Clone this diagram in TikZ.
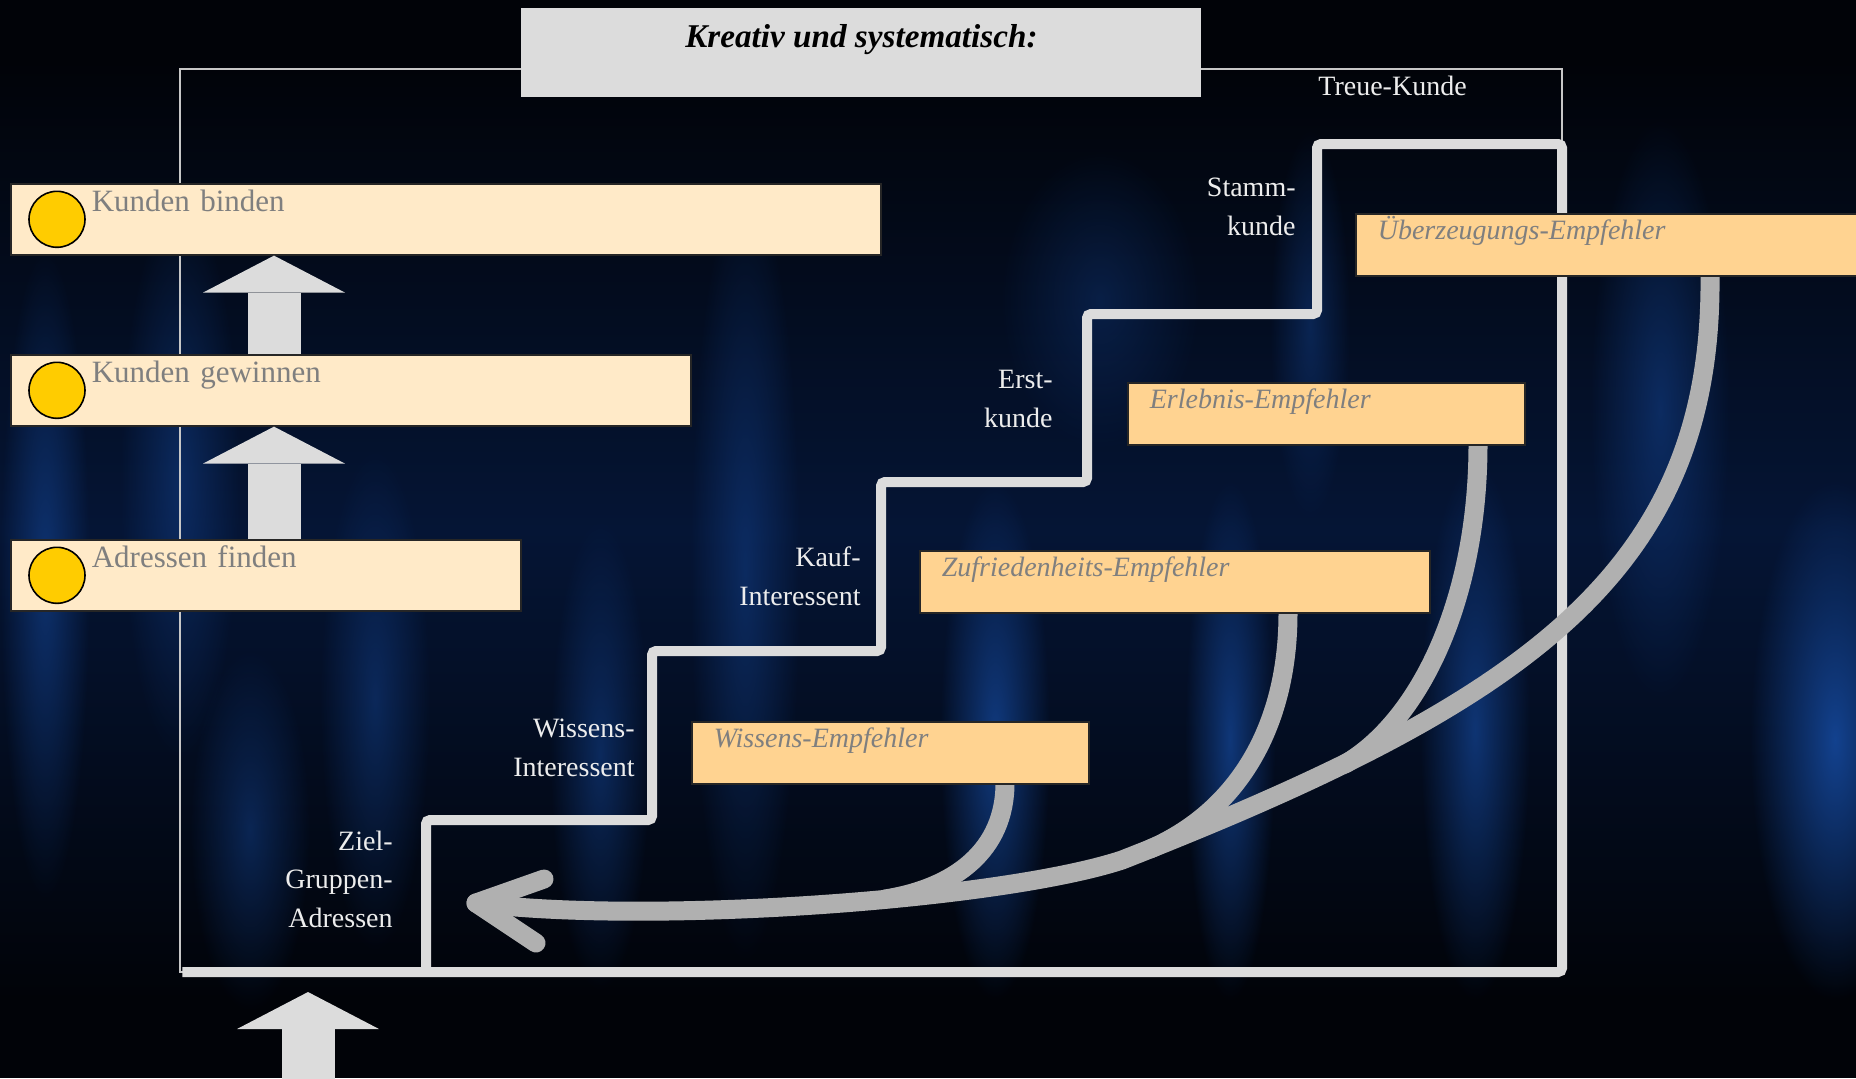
\documentclass[tikz,border=0pt]{standalone}
\usepackage{fontspec}
\setmainfont{Liberation Serif}
\usepackage{xcolor}
\usepackage{tikz}
\usetikzlibrary{arrows.meta,fadings}
\definecolor{bgdark}{HTML}{010308}
\definecolor{bgnavy}{HTML}{051535}
\definecolor{streak}{HTML}{13428F}
\definecolor{treppengrau}{HTML}{DCDCDC}
\definecolor{bogengrau}{HTML}{B0B0B0}
\definecolor{beige}{HTML}{FFEAC8}
\definecolor{apricot}{HTML}{FFD391}
\definecolor{gold}{HTML}{FFCC00}
\definecolor{textgrau}{HTML}{7F7F7F}
\tikzfading[name=glow,inner color=transparent!0,outer color=transparent!100]

\begin{document}
\begin{tikzpicture}[x=0.5pt,y=-0.5pt,
  stufe/.style={anchor=north west,fill=beige,draw=black!85,line width=0.8pt,inner xsep=40.5pt,inner ysep=0pt,
    text height=14pt,text depth=21.5pt,text width=#1,align=left,text=textgrau,font=\fontsize{15.5pt}{18pt}\selectfont},
  empfehler/.style={anchor=north west,fill=apricot,draw=black!85,line width=0.8pt,inner xsep=11pt,inner ysep=0pt,
    text height=13pt,text depth=18pt,text width=#1,align=left,text=textgrau,font=\fontsize{14pt}{17pt}\selectfont\itshape},
  muenze/.style={circle,fill=gold,draw=black,line width=0.8pt,minimum size=28pt,inner sep=0pt},
  hoch/.style={treppengrau,line width=26.5pt,-{Triangle[length=18.5pt,width=71pt,line width=0pt]}},
  treppe/.style={treppengrau,line width=5pt,rounded corners=2pt},
  bogen/.style={bogengrau,line width=9.5pt,line cap=round,line join=round},
  stufentext/.style={anchor=base east,align=right,inner sep=0pt,text=white!93!black,font=\fontsize{14pt}{19.25pt}\selectfont},
  rahmen/.style={draw=black!22,line width=1pt}]
\useasboundingbox (0,0) rectangle (1856,1078);
\fill[bgdark] (0,0) rectangle (1856,1078);
\shade[top color=bgdark,bottom color=bgdark,middle color=bgnavy] (0,60) rectangle (1856,1000);
\foreach \xa/\xb/\ya/\yb/\op in {0/90/250/900/0.65,120/240/200/760/0.5,320/430/450/950/0.5,550/650/520/990/0.55,690/800/180/960/0.5,
  940/1050/480/1000/0.85,1185/1275/480/1000/0.8,1420/1530/460/1000/0.75,1590/1730/120/700/0.55,1750/1920/480/1000/1,
  190/310/650/1010/0.5,1270/1350/130/520/0.45,1000/1200/150/450/0.35}
  \fill[streak,opacity=\op,path fading=glow] (\xa,\ya) rectangle (\xb,\yb);

\draw[rahmen] (180,69) rectangle (1562,972);
\node[fill=treppengrau,anchor=north west,inner sep=0pt,minimum width=340pt,text height=19.5pt,text depth=25pt,
  font=\fontsize{16.6pt}{20pt}\selectfont\bfseries\itshape] (titel) at (521,8) {Kreativ und systematisch:};
\node[anchor=base west,inner sep=0pt,text=white!93!black,font=\fontsize{14pt}{17pt}\selectfont] (treue) at (1318,95) {Treue-Kunde};

\draw[treppe] (180,972) -| (426,820) -| (652,651) -| (881,482) -| (1087,314) -| (1317,144) -| (1562,972) -- cycle;

\node[stufentext] (lz) at (393,927) {Ziel-\\Gruppen-\\Adressen};
\node[stufentext] (lw) at (635,776) {Wissens-\\Interessent};
\node[stufentext] (lk) at (861,605) {Kauf-\\Interessent};
\node[stufentext] (le) at (1053,427) {Erst-\\kunde};
\node[stufentext] (ls) at (1296,235) {Stamm-\\kunde};

\coordinate (ziel) at (476,903);
\draw[bogen] (1710,0 |- 0,275) .. controls (1713,570) and (1530,700) .. (1122,860)
  .. controls (1000,900) and (650,925) .. (ziel);
\draw[bogen] ([shift={(68,-24)}]ziel) -- (ziel) -- ([shift={(60,40)}]ziel);
\draw[bogen] (1005,0 |- 0,783) .. controls (1005,850) and (955,888) .. (885,899);
\draw[bogen] (1288,0 |- 0,613) .. controls (1288,730) and (1235,812) .. (1150,849);
\draw[bogen] (1478,0 |- 0,444) .. controls (1478,600) and (1420,720) .. (1345,764);

\node[empfehler=176.5pt] (wiss) at (691,721) {Wissens-Empfehler};
\node[empfehler=233pt] (zuf) at (919,550) {Zufriedenheits-Empfehler};
\node[empfehler=176.5pt] (erl) at (1127,382) {Erlebnis-Empfehler};
\node[empfehler=258pt] (ueb) at (1355,213) {Überzeugungs-Empfehler};

\node[stufe=354pt] (kb) at (10,183) {Kunden binden};
\node[stufe=259pt] (kg) at (10,354) {Kunden gewinnen};
\node[stufe=174pt] (af) at (10,539) {Adressen finden};
\node[muenze] (m1) at ([shift={(47,0)}]kb.west) {};
\node[muenze] (m2) at ([shift={(47,0)}]kg.west) {};
\node[muenze] (m3) at ([shift={(47,0)}]af.west) {};

\draw[hoch] (af.north -| 274,0) -- (kg.south -| 274,0);
\draw[hoch] (kg.north -| 274,0) -- (kb.south -| 274,0);
\coordinate (unten) at (308,1085);
\coordinate (boden) at (308,992);
\draw[hoch] (unten) -- (boden);
\end{tikzpicture}
\end{document}
